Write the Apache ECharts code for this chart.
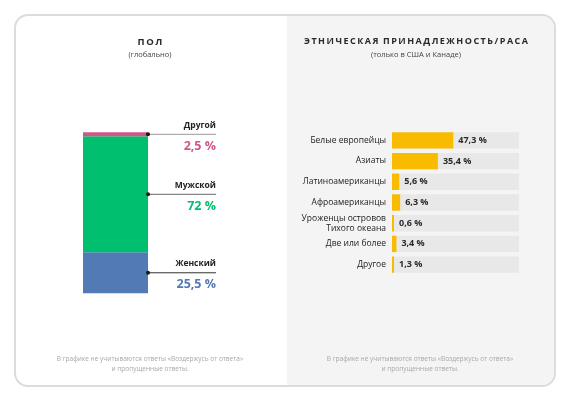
<!DOCTYPE html>
<html>
<head>
<meta charset="utf-8">
<script src="https://cdn.jsdelivr.net/npm/echarts@6/dist/echarts.min.js"></script>
<style>
  html, body { margin: 0; padding: 0; background: #ffffff; }
  #wrap { position: relative; width: 569px; height: 400px; }
  #card { position: absolute; left: 14px; top: 14px; width: 538px; height: 369px;
          border: 2px solid #dcdcdc; border-radius: 14px; overflow: hidden; background: #ffffff; }
  #rightbg { position: absolute; left: 271px; top: 0; width: 300px; height: 100%; background: #f4f4f4; }
  #chart { position: absolute; left: 0; top: 0; width: 569px; height: 400px; }
</style>
</head>
<body>
<div id="wrap">
  <div id="card"><div id="rightbg"></div></div>
  <div id="chart"></div>
</div>
<script>
// ---- Data ----
var genderNames = ['Женский', 'Мужской', 'Другой'];
var genderValues = [25.5, 72, 2.5];
var genderColors = ['#527ab4', '#00bf6f', '#d0568a'];
var lineColors = ['#333333', '#666666', '#9a9a9a'];

var ethnicCategories = ['Белые европейцы', 'Азиаты', 'Латиноамериканцы', 'Афроамериканцы',
  'Уроженцы островов\nТихого океана', 'Две или более', 'Другое'];
var ethnicValues = [47.3, 35.4, 5.6, 6.3, 0.6, 3.4, 1.3];

function fmt(v) { return String(v).replace('.', ',') + ' %'; }
function spaced(s) { return s.split('').join('\u2009'); }

var FONT = 'Open Sans';

// stacked bar series (left)
var series = [];
genderNames.forEach(function (n, i) {
  series.push({
    type: 'bar', name: n, stack: 'g', xAxisIndex: 0, yAxisIndex: 0,
    barWidth: '100%', data: [genderValues[i]],
    itemStyle: { color: genderColors[i] }, silent: true
  });
});
// leader lines at the middle of each segment
var cum = 0;
genderNames.forEach(function (n, i) {
  var mid = cum + genderValues[i] / 2;
  cum += genderValues[i];
  series.push({
    type: 'line', xAxisIndex: 1, yAxisIndex: 1, silent: true, z: 5,
    lineStyle: { color: lineColors[i], width: 1 },
    itemStyle: { color: '#1a1a1a' },
    symbol: 'circle',
    data: [
      { value: [0, mid], symbolSize: 4 },
      { value: [1, mid], symbolSize: 0.01,
        label: {
          show: true, position: 'left', distance: 0, offset: [0, 3],
          formatter: '{n|' + n + '}\n{v|' + fmt(genderValues[i]) + '}',
          rich: {
            n: { fontFamily: FONT, fontSize: 8.5, fontWeight: 'bold', color: '#222', lineHeight: 18, align: 'right' },
            v: { fontFamily: FONT, fontSize: 12.5, fontWeight: 'bold', color: genderColors[i], lineHeight: 24, align: 'right' }
          }
        } }
    ]
  });
});
// ethnicity bars (right)
series.push({
  type: 'bar', xAxisIndex: 2, yAxisIndex: 2, data: ethnicValues, silent: true,
  barCategoryGap: '21%', barMinHeight: 2,
  showBackground: true, backgroundStyle: { color: '#e8e8e8' },
  itemStyle: { color: '#f8bb00' },
  label: { show: true, position: 'right', distance: 5, fontFamily: FONT, fontSize: 9,
           fontWeight: 'bold', color: '#2a2a2a', formatter: function (p) { return fmt(p.value); } }
});

var chart = echarts.init(document.getElementById('chart'), null, { renderer: 'canvas' });
chart.setOption({
  backgroundColor: 'transparent',
  animation: false,
  title: [
    { text: spaced('ПОЛ'), left: 145, top: 32, textAlign: 'center',
      textStyle: { fontFamily: FONT, fontSize: 9.5, fontWeight: 'bold', color: '#2a2a2a' } },
    { text: '(глобально)', left: 145, top: 46, textAlign: 'center',
      textStyle: { fontFamily: FONT, fontSize: 7.5, fontWeight: 'normal', color: '#444' } },
    { text: spaced('ЭТНИЧЕСКАЯ') + '\u2002' + spaced('ПРИНАДЛЕЖНОСТЬ/РАСА'), left: 411, top: 32, textAlign: 'center',
      textStyle: { fontFamily: FONT, fontSize: 9, fontWeight: 'bold', color: '#2a2a2a' } },
    { text: '(только в США и Канаде)', left: 411, top: 46, textAlign: 'center',
      textStyle: { fontFamily: FONT, fontSize: 7.5, fontWeight: 'normal', color: '#444' } },
    { text: 'В графике не учитываются ответы «Воздержусь от ответа»\nи пропущенные ответы.', left: 145, top: 349, textAlign: 'center',
      textStyle: { fontFamily: FONT, fontSize: 6.5, fontWeight: 'normal', color: '#a8a8a8', lineHeight: 10 } },
    { text: 'В графике не учитываются ответы «Воздержусь от ответа»\nи пропущенные ответы.', left: 415, top: 349, textAlign: 'center',
      textStyle: { fontFamily: FONT, fontSize: 6.5, fontWeight: 'normal', color: '#a8a8a8', lineHeight: 10 } }
  ],
  grid: [
    { left: 83, top: 132.3, width: 65, height: 161 },
    { left: 148, top: 132.3, width: 68, height: 161 },
    { left: 392, top: 130, width: 127, height: 145 }
  ],
  xAxis: [
    { gridIndex: 0, type: 'category', data: ['Пол'], show: false },
    { gridIndex: 1, type: 'value', min: 0, max: 1, show: false },
    { gridIndex: 2, type: 'value', min: 0, max: 98, show: false }
  ],
  yAxis: [
    { gridIndex: 0, type: 'value', min: 0, max: 100, show: false },
    { gridIndex: 1, type: 'value', min: 0, max: 100, show: false },
    { gridIndex: 2, type: 'category', data: ethnicCategories, inverse: true,
      axisLine: { show: false }, axisTick: { show: false }, splitLine: { show: false },
      axisLabel: { margin: 6, fontFamily: FONT, fontSize: 8.5, color: '#222', lineHeight: 10, fontWeight: 500 } }
  ],
  series: series
});
</script>
</body>
</html>
